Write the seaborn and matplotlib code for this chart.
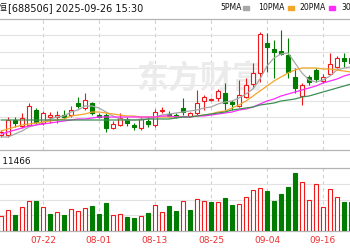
import numpy as np
import pandas as pd
import matplotlib
matplotlib.use("Agg")
import matplotlib.pyplot as plt
from matplotlib.patches import Rectangle
import seaborn as sns

sns.set_style("white")
plt.rcParams['font.family'] = ['DejaVu Sans', 'Noto Sans CJK SC']

# ---------------- data ----------------
dates = ['07-14','07-15','07-16','07-17','07-18','07-21','07-22','07-23','07-24','07-25',
         '07-28','07-29','07-30','07-31','08-01','08-04','08-05','08-06','08-07','08-08',
         '08-11','08-12','08-13','08-14','08-15','08-18','08-19','08-20','08-21','08-22',
         '08-25','08-26','08-27','08-28','08-29','09-01','09-02','09-03','09-04','09-05',
         '09-08','09-09','09-10','09-11','09-12','09-15','09-16','09-17','09-18','09-19','09-22']
opens  = [285,285,300,294,295,310,297,303,303,305,305,317,312,317,305,305,292,295,301,295,
          292,299,295,309,306,305,312,304,307,319,320,322,327,318,314,323,336,347,377,371,
          369,365,343,324,343,350,339,346,353,362,362]
closes = [288,300,297,302,314,298,307,305,305,303,310,314,320,307,303,292,296,302,297,293,
          301,296,308,310,304,303,308,307,317,323,321,329,317,316,325,335,347,386,373,368,
          366,348,332,335,338,341,343,356,362,359,357]
highs  = [290,303,303,307,317,312,309,308,309,310,314,323,327,318,307,307,299,307,303,297,
          303,303,311,313,309,307,322,308,330,325,322,331,337,320,340,342,357,388,387,380,
          390,382,352,337,345,352,346,367,364,367,364]
lows   = [283,283,293,292,294,296,295,297,297,301,303,312,310,305,302,288,291,294,294,290,
          290,293,293,307,303,302,305,303,305,310,319,319,310,310,313,322,333,338,348,342,
          365,342,327,315,335,338,337,345,352,353,355]
prev_close = 286   # close of the session before the first visible one
volumes = [3000,4200,3200,4800,6000,6000,4800,3400,3800,3200,4400,4000,4600,5000,3400,5600,
           3200,3400,2800,2600,3000,3600,5200,3800,5000,4000,6000,4200,6400,6000,5800,5800,
           6600,5200,5400,6800,8200,8600,8000,6000,7400,8800,11600,9800,6200,9400,4800,8400,
           6800,5800,5800]
ma5  = [283,283,286,289,293,295,298,301,303,304,308,310,314,314,312,308,304,301,300,300,
        301,301,303,305,306,307,308,309,310,312,313,316,318,319,322,326,331,341,354,362,
        366,367,357,347,340,338,340,344,350,352,353]
ma10 = [289,291,293,295,296,297,298,299,300,301,304,305,306,308,308,307,306,305,304,304,
        303,303,303,303,303,303,303,303,304,305,306,308,309,312,315,319,324,329,334,339,
        343,347,350,352,352,352,351,351,350,349,348]
ma20 = [286,288,290,292,294,295,296,297,298,299,300,301,301,302,303,303,303,303,303,303,
        303,303,303,304,304,303,303,303,304,304,305,306,307,308,310,311,313,316,319,321,
        324,326,328,330,332,334,337,339,341,344,346]
ma30 = [300,300,300,300,300,300,300,300,300,300,300,300,300,300,300,300,300,300,300,300,
        300,301,301,301,301,302,303,303,304,305,306,307,308,310,311,312,313,315,316,317,
        319,320,321,323,324,326,328,330,332,334,336]
date_ticks = ['07-22','08-01','08-13','08-25','09-04','09-16']
legend_labels = ['5PMA', '10PMA', '20PMA', '30PMA']
header = '[688506] 2025-09-26 15:30'
stock_name = '百利天恒'
vol_label = '成交量: 11466'

# ---------------- styling ----------------
RED = '#f01818'
GREEN = '#007d00'
MA_COLORS = ['#a8a8a8', '#f2a62a', '#ff2cff', '#3f8f55']
W, H = 350, 250

df = pd.DataFrame({'date': dates, 'open': opens, 'close': closes, 'high': highs,
                   'low': lows, 'vol': volumes, 'ma5': ma5, 'ma10': ma10,
                   'ma20': ma20, 'ma30': ma30})
df['x'] = np.arange(len(df))
up = df['close'] >= df['open']
col = np.where(up, RED, GREEN)
face = np.where(up, 'white', GREEN)
# volume colour follows close vs previous close
vol_up = df['close'] >= df['close'].shift(1).fillna(prev_close)
vcol = np.where(vol_up, RED, GREEN)
vface = np.where(vol_up, 'white', GREEN)

fig = plt.figure(figsize=(W / 100, H / 100), dpi=100)
fig.patch.set_facecolor('white')

def rect(top, bottom):
    return [0, 1 - bottom / H, 1, (bottom - top) / H]

axp = fig.add_axes(rect(19, 150))
axv = fig.add_axes(rect(168, 231))

PLO, PHI = 270, 401
VHI = 12600
axp.set_ylim(PLO, PHI)
axv.set_ylim(0, VHI)

for ax in (axp, axv):
    ax.set_xlim(-1 / 7, 349 / 7)
    ax.set_facecolor('white')
    for s in ('left', 'right'):
        ax.spines[s].set_visible(False)
    for s in ('top', 'bottom'):
        ax.spines[s].set_color('#b4b4b4')
        ax.spines[s].set_linewidth(0.9)
    ax.set_yticks([])
    for d in date_ticks:
        ax.axvline(dates.index(d), color='#cfcfcf', lw=0.8, ls=(0, (3, 3)), zorder=0)

for v in np.linspace(PLO, PHI, 9)[1:-1]:
    axp.axhline(v, color='#e2e2e2', lw=0.8, zorder=0)
for v in np.linspace(0, VHI, 5)[1:-1]:
    axv.axhline(v, color='#e2e2e2', lw=0.8, zorder=0)

# watermark
axp.text(200 / W, (150 - 80) / 131, '东方财富', transform=axp.transAxes,
         fontsize=23, color='#ebebeb', ha='center', va='center',
         family=['Noto Sans CJK SC'], fontweight='bold', zorder=0.5)

# candles
axp.vlines(df['x'], df['low'], df['high'], colors=col, lw=0.8, zorder=2)
body_bot = np.minimum(df['open'], df['close'])
body_h = np.maximum((df['close'] - df['open']).abs(), 0.7)
axp.bar(df['x'], body_h, bottom=body_bot, width=0.62, color=face,
        edgecolor=col, linewidth=0.8, zorder=3)

# moving averages
for name, c in zip(['ma5', 'ma10', 'ma20', 'ma30'], MA_COLORS):
    sns.lineplot(data=df, x='x', y=name, ax=axp, color=c, lw=0.9, zorder=4,
                 legend=False)
axp.set_xlabel(''); axp.set_ylabel('')
axp.set_xticks([])

# volume
axv.bar(df['x'], df['vol'], width=0.62, color=vface, edgecolor=vcol,
        linewidth=0.8, zorder=3)
axv.set_xticks([dates.index(d) for d in date_ticks], labels=date_ticks)
axv.tick_params(axis='x', length=0, labelsize=6.5, labelcolor='#ee3030', pad=3.5)
axv.set_xlabel(''); axv.set_ylabel('')

# header texts
fig.text(8 / W, 1 - 8 / H, header, fontsize=7.0, ha='left', va='center', color='#111111')
fig.text(7.5 / W, 1 - 8 / H, stock_name, fontsize=7.0, ha='right', va='center',
         color='#111111', family=['Noto Sans CJK SC'])

# legend
leg_x = [220, 258, 299, 341]
sw_x = [243, 288, 329, None]
for lab, lx, sx, c in zip(legend_labels, leg_x, sw_x, MA_COLORS):
    fig.text(lx / W, 1 - 8 / H, lab, fontsize=5.6, ha='left', va='center', color='#111111')
    if sx is not None:
        fig.patches.append(Rectangle((sx / W, 1 - 10 / H), 6 / W, 4 / H,
                                     transform=fig.transFigure, color=c, figure=fig))

# volume label
fig.text(31 / W, 1 - 161 / H, vol_label, fontsize=6.4, ha='right', va='center',
         color='#111111')

fig.savefig('out.png', dpi=100, facecolor='white')
